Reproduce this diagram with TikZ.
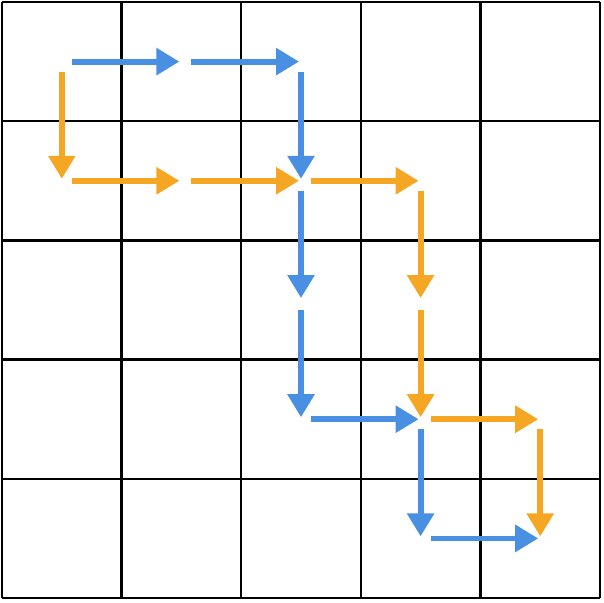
\documentclass[tikz,border=0pt]{standalone}
\usepackage{tikz}
\usetikzlibrary{arrows.meta}
\definecolor{blueink}{RGB}{74,144,226}
\definecolor{orangeink}{RGB}{245,166,35}

\begin{document}
\begin{tikzpicture}[x=0.02cm, y=-0.02cm,
  gridline/.style={line width=1.4pt},
  move/.style={line width=3.3pt, -{Triangle[length=0.46cm, width=0.52cm]},
    shorten <=0.2cm, shorten >=0.04cm}]
  \useasboundingbox (0,0) rectangle (604,602);
  % the 5x5 board
  \foreach \k in {0,...,5} {
    \draw[gridline] (2+119.6*\k,2) -- (2+119.6*\k,598);
    \draw[gridline] (2,2+119.2*\k) -- (600,2+119.2*\k);
  }
  % cell centres
  \foreach \i in {0,...,4} {
    \foreach \j in {0,...,4} {
      \coordinate (c\i\j) at (61.8+119.6*\i, 61.6+119.2*\j);
    }
  }
  % blue path
  \draw[move, blueink] (c00) -- (c10);
  \draw[move, blueink] (c10) -- (c20);
  \draw[move, blueink] (c20) -- (c21);
  \draw[move, blueink] (c21) -- (c22);
  \draw[move, blueink] (c22) -- (c23);
  \draw[move, blueink] (c23) -- (c33);
  \draw[move, blueink] (c33) -- (c34);
  \draw[move, blueink] (c34) -- (c44);
  % orange path
  \draw[move, orangeink] (c00) -- (c01);
  \draw[move, orangeink] (c01) -- (c11);
  \draw[move, orangeink] (c11) -- (c21);
  \draw[move, orangeink] (c21) -- (c31);
  \draw[move, orangeink] (c31) -- (c32);
  \draw[move, orangeink] (c32) -- (c33);
  \draw[move, orangeink] (c33) -- (c43);
  \draw[move, orangeink] (c43) -- (c44);
\end{tikzpicture}
\end{document}
